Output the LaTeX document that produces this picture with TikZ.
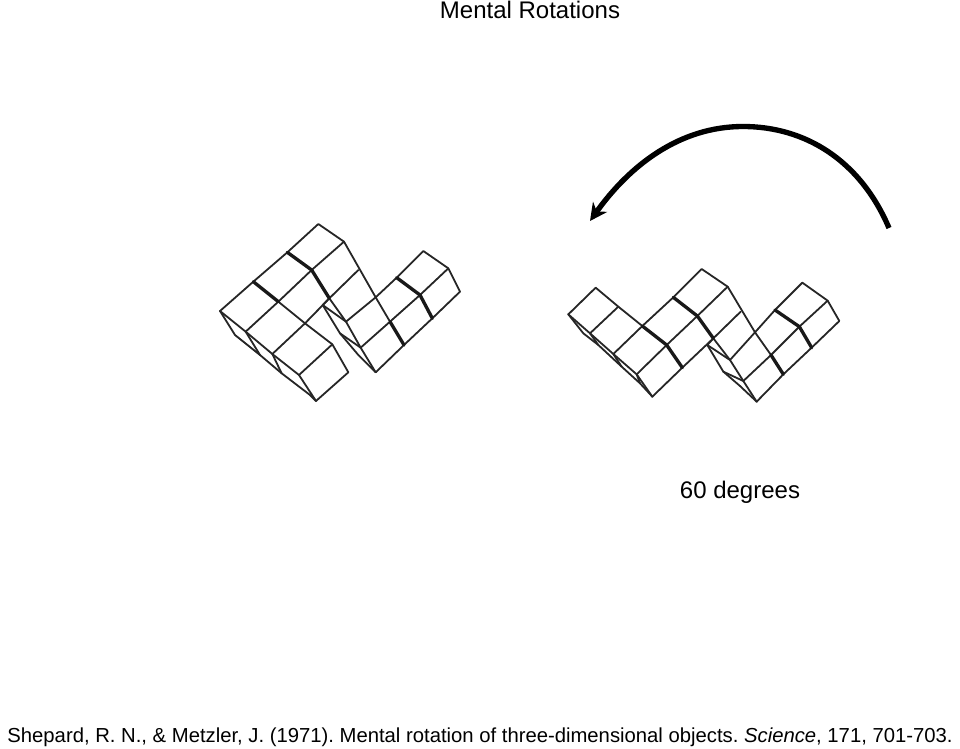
\documentclass[tikz,border=0pt]{standalone}
\usepackage{fontspec}
\setmainfont{Liberation Sans}
\usetikzlibrary{arrows.meta}

\begin{document}
\begin{tikzpicture}[
      x=0.75pt, y=-0.75pt,
      label/.style={font=\fontsize{18}{22}\selectfont, inner sep=0pt},
      edge/.style={line width=1.35pt, line join=round, line cap=round, black!85},
      seam/.style={line width=2.5pt, line join=round, line cap=round, black!90},
      arrow/.style={-{Stealth[length=13pt,width=13pt]}, line width=4pt}
    ]
    \useasboundingbox (0,0) rectangle (960,749);

    \node[label] (title) at (530,10) {Mental Rotations};
    \node[label] (angle) at (740,492.5) {60 degrees};
    \node[label, font=\fontsize{15.2}{19}\selectfont\frenchspacing] (source) at (480,737.5)
      {Shepard, R. N., \& Metzler, J. (1971). Mental rotation of three-dimensional objects. \textit{Science}, 171, 701-703.};

    % Rotation arrow
    \coordinate (arcstart) at (889,228);
    \coordinate (arctop)   at (743,126.5);
    \coordinate (arcend)   at (590,221);
    \draw[arrow] (arcstart) .. controls (860,160) and (805,126.5) .. (arctop)
      .. controls (680,126.5) and (630,165) .. (arcend);

    % Left block
    \begin{scope}[shift={(200,210)}, scale=1/3]
      \foreach \p in {
        {(60,303)--(160,215)--(262,127)--(355,42)--(432,95)},
        {(137,365)--(235,275)--(335,180)--(432,95)},
        {(217,432)--(315,340)--(388,265)--(475,180)},
        {(297,495)--(397,403)--(445,487)--(348,573)},
        {(160,215)--(235,275)--(315,340)--(397,403)},
        {(60,303)--(137,365)--(217,432)--(297,495)--(348,573)},
        {(60,303)--(105,375)--(180,435)--(245,490)--(330,555)--(348,573)},
        {(137,365)--(180,435)}, {(217,432)--(245,490)},
        {(432,95)--(527,262)--(570,335)},
        {(388,265)--(438,335)--(482,413)--(527,487)},
        {(368,285)--(420,370)--(475,435)--(527,487)},
        {(368,285)--(388,265)}, {(368,285)--(438,335)}, {(420,370)--(482,413)},
        {(438,335)--(527,262)--(590,203)--(670,123)--(745,175)--(780,245)},
        {(482,413)--(570,335)--(660,255)--(745,175)},
        {(527,487)--(612,405)--(697,325)--(780,245)}}
        \draw[edge] \p;
      \foreach \p in {
        {(262,127)--(335,180)--(388,265)},
        {(160,215)--(235,275)},
        {(590,203)--(660,255)--(697,325)},
        {(570,335)--(612,405)}}
        \draw[seam] \p;
    \end{scope}

    % Right block
    \begin{scope}[shift={(555,255)}, scale=1/3]
      \foreach \p in {
        {(40,178)--(122,98)--(190,155)--(262,213)},
        {(40,178)--(105,235)--(175,297)--(245,358)--(292,425)},
        {(40,178)--(85,235)--(130,270)--(200,335)--(255,385)--(292,425)},
        {(105,235)--(130,270)}, {(175,297)--(200,335)}, {(245,358)--(255,385)},
        {(105,235)--(190,155)},
        {(175,297)--(262,213)--(355,127)--(440,42)--(518,95)},
        {(245,358)--(335,270)--(427,183)--(518,95)},
        {(292,425)--(382,338)--(475,250)--(557,170)},
        {(518,95)--(600,232)--(648,300)},
        {(475,250)--(525,315)--(565,378)--(605,440)},
        {(457,270)--(505,350)--(555,393)--(605,440)},
        {(457,270)--(475,250)}, {(457,270)--(525,315)}, {(505,350)--(565,378)},
        {(525,315)--(600,232)--(660,165)--(742,83)--(818,137)--(853,198)},
        {(565,378)--(648,300)--(733,215)--(818,137)},
        {(605,440)--(685,358)--(770,278)--(853,198)}}
        \draw[edge] \p;
      \foreach \p in {
        {(262,213)--(335,270)--(382,338)},
        {(355,127)--(427,183)--(475,250)},
        {(660,165)--(733,215)--(770,278)},
        {(648,300)--(685,358)}}
        \draw[seam] \p;
    \end{scope}
  \end{tikzpicture}
\end{document}
